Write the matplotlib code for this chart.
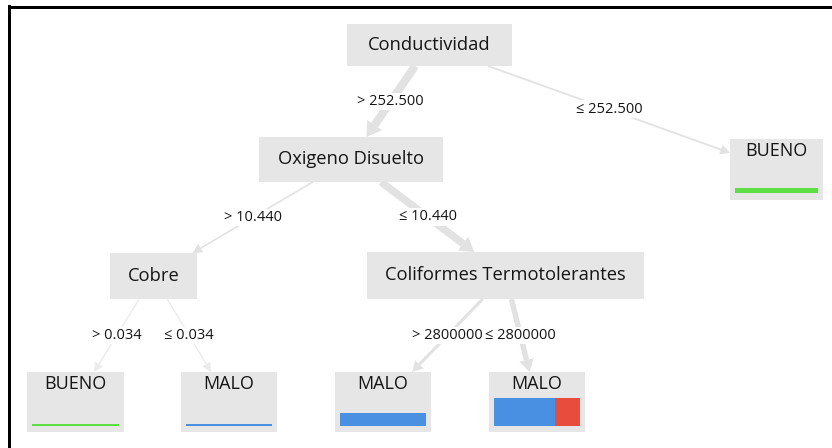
import matplotlib.pyplot as plt
from matplotlib.patches import Rectangle, Polygon
import numpy as np

plt.rcParams['font.family'] = ['Open Sans', 'DejaVu Sans']

# tree: node names, parent index, label of the edge coming into the node
node_names = ["Conductividad", "Oxigeno Disuelto", "BUENO", "Cobre",
              "Coliformes Termotolerantes", "BUENO", "MALO", "MALO", "MALO"]
node_parent = [None, 0, 0, 1, 1, 3, 3, 4, 4]
edge_labels = [None, "> 252.500", "\u2264 252.500", "> 10.440", "\u2264 10.440",
               "> 0.034", "\u2264 0.034", "> 2800000", "\u2264 2800000"]

classes = ["BUENO", "MALO", "REGULAR"]
class_colors = ["#5ddf44", "#4a90e2", "#e74c3c"]
# samples per class in each leaf
leaf_counts = {2: [5, 0, 0], 5: [2, 0, 0], 6: [0, 2, 0],
               7: [0, 13, 0], 8: [0, 20, 8]}

# layout of the boxes (left, top, width, height) in pixels
boxes = [(347, 24, 165, 42), (259, 137, 184, 45), (730, 139, 93, 61),
         (110, 253, 87, 46), (367, 252, 277, 47), (27, 372, 97, 60),
         (181, 372, 96, 60), (335, 372, 96, 60), (489, 372, 96, 60)]

BOX = "#e6e6e6"
EDGE = "#e2e2e2"
TXT = "#151515"
PX = 0.72  # points per pixel at dpi 100


def samples(i):
    if i in leaf_counts:
        return sum(leaf_counts[i])
    return sum(samples(j) for j, p in enumerate(node_parent) if p == i)


def center(i):
    l, t, w, h = boxes[i]
    return np.array([l + w / 2, t + h / 2])


def exit_t(i, d):
    l, t, w, h = boxes[i]
    tx = (w / 2) / abs(d[0]) if d[0] != 0 else np.inf
    ty = (h / 2) / abs(d[1]) if d[1] != 0 else np.inf
    return min(tx, ty)


fig = plt.figure(figsize=(8.32, 4.48), dpi=100)
ax = fig.add_axes([0, 0, 1, 1])
ax.set_xlim(0, 832)
ax.set_ylim(448, 0)
ax.axis('off')

# edges
for i, p in enumerate(node_parent):
    if p is None:
        continue
    c1, c2 = center(p), center(i)
    d = c2 - c1
    a = c1 + exit_t(p, d) * d
    b = c2 - exit_t(i, d) * d
    n = samples(i)
    u = (b - a) / np.linalg.norm(b - a)
    nv = np.array([-u[1], u[0]])
    hl = 9 + 0.12 * n
    hw = 4.5 + 0.1 * n
    base = b - hl * u
    col = EDGE if n > 3 else "#ebebeb"
    ax.plot([a[0], base[0]], [a[1], base[1]], color=col,
            lw=(1 + 0.16 * n) * PX, solid_capstyle='butt', zorder=1)
    ax.add_patch(Polygon([b, base + hw * nv, base - hw * nv], closed=True,
                         facecolor=col, edgecolor='none', zorder=1))
    m = (a + b) / 2
    ax.text(m[0], m[1], edge_labels[i], ha='center', va='center',
            fontsize=10.5, color=TXT, zorder=3,
            bbox=dict(facecolor='white', edgecolor='none', pad=1))

# nodes
for i, name in enumerate(node_names):
    l, t, w, h = boxes[i]
    ax.add_patch(Rectangle((l, t), w, h, facecolor=BOX, edgecolor='none', zorder=2))
    if i in leaf_counts:
        ax.text(l + w / 2, t + 12, name, ha='center', va='center',
                fontsize=13, color=TXT, zorder=3)
        counts = leaf_counts[i]
        tot = sum(counts)
        bar_h = tot
        x0 = l + 5
        bw = w - 10
        for k, c in enumerate(counts):
            if c == 0:
                continue
            seg = bw * c / tot
            ax.add_patch(Rectangle((x0, t + 54 - bar_h), seg, bar_h,
                                   facecolor=class_colors[k], edgecolor='none', zorder=3))
            x0 += seg
    else:
        ax.text(l + w / 2, t + h / 2, name, ha='center', va='center',
                fontsize=13.2, color=TXT, zorder=3)

# frame
ax.plot([9, 832], [7.5, 7.5], color='black', lw=3 * PX, zorder=4)
ax.plot([9, 9], [6, 448], color='black', lw=3 * PX, zorder=4)

fig.savefig("out.png", dpi=100)
